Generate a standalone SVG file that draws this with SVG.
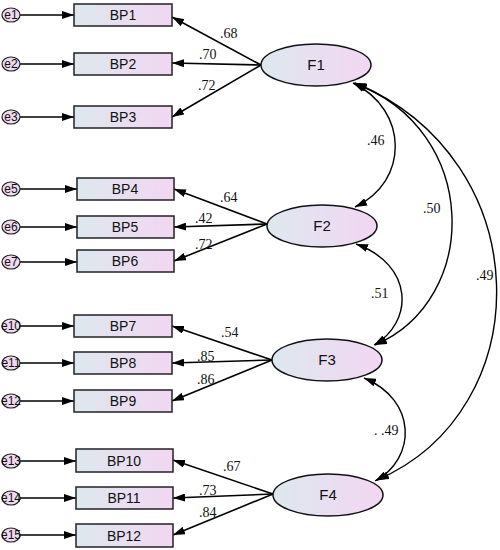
<svg xmlns="http://www.w3.org/2000/svg" width="500" height="550" viewBox="0 0 500 550">
<defs>
<linearGradient id="g" x1="0" y1="0" x2="1" y2="0">
<stop offset="0" stop-color="#dde8ee"/>
<stop offset="1" stop-color="#f3d6f3"/>
</linearGradient>
<marker id="ah" viewBox="0 0 12 8" refX="12" refY="4" markerWidth="12" markerHeight="8" markerUnits="userSpaceOnUse" orient="auto-start-reverse">
<path d="M0,0 L12,4 L0,8 Z" fill="#000"/>
</marker>
<style>
.box{fill:url(#g);stroke:#222;stroke-width:1.5}
.lat{fill:url(#g);stroke:#111;stroke-width:1.5}
.err{fill:#f1d9f1;stroke:#222;stroke-width:1.2}
.bl{font-family:"Liberation Sans",Arial,sans-serif;font-size:14px;fill:#111;text-anchor:middle}
.fl{font-family:"Liberation Sans",Arial,sans-serif;font-size:15px;fill:#111;text-anchor:middle}
.el{font-family:"Liberation Sans",Arial,sans-serif;font-size:12px;fill:#111;text-anchor:middle}
.v{font-family:"Liberation Serif","Times New Roman",serif;font-size:14px;fill:#111}
.ln{stroke:#000;stroke-width:1.6;fill:none;marker-end:url(#ah)}
.cv{stroke:#000;stroke-width:1.4;fill:none;marker-start:url(#ah);marker-end:url(#ah)}
</style>
</defs>

<g id="connectors">
<line class="ln" x1="20" y1="15" x2="74" y2="15"/>
<line class="ln" x1="20" y1="64" x2="74" y2="64"/>
<line class="ln" x1="20" y1="117" x2="74" y2="117"/>
<line class="ln" x1="20" y1="189" x2="77" y2="189"/>
<line class="ln" x1="20" y1="227" x2="77" y2="227"/>
<line class="ln" x1="20" y1="262" x2="77" y2="262"/>
<line class="ln" x1="20" y1="326" x2="74" y2="326"/>
<line class="ln" x1="20" y1="363" x2="74" y2="363"/>
<line class="ln" x1="20" y1="401" x2="74" y2="401"/>
<line class="ln" x1="20" y1="461" x2="76" y2="461"/>
<line class="ln" x1="20" y1="498" x2="76" y2="498"/>
<line class="ln" x1="20" y1="535" x2="76" y2="535"/>
<line class="ln" x1="261" y1="65" x2="172" y2="17"/>
<line class="ln" x1="261" y1="65" x2="172" y2="63"/>
<line class="ln" x1="261" y1="65" x2="172" y2="117"/>
<line class="ln" x1="267" y1="224" x2="174" y2="189"/>
<line class="ln" x1="267" y1="224" x2="174" y2="227"/>
<line class="ln" x1="267" y1="224" x2="174" y2="261"/>
<line class="ln" x1="272" y1="360" x2="172" y2="326"/>
<line class="ln" x1="272" y1="360" x2="172" y2="363"/>
<line class="ln" x1="272" y1="360" x2="172" y2="401"/>
<line class="ln" x1="273" y1="494" x2="173" y2="460"/>
<line class="ln" x1="273" y1="494" x2="173" y2="498"/>
<line class="ln" x1="273" y1="494" x2="173" y2="535"/>
<path class="cv" d="M353,83 C409,110 409,182 355,207"/>
<path class="cv" d="M354,83 C481,130 481,300 375,345"/>
<path class="cv" d="M355,83 C540,160 540,410 377,480"/>
<path class="cv" d="M356,244 C414,265 414,322 374,345"/>
<path class="cv" d="M364,378 C417,400 417,458 375,481"/>
</g>

<g id="labels">
<text class="v" x="220" y="38">.68</text>
<text class="v" x="199" y="59">.70</text>
<text class="v" x="198" y="90">.72</text>
<text class="v" x="220" y="202">.64</text>
<text class="v" x="195" y="223">.42</text>
<text class="v" x="195" y="249">.72</text>
<text class="v" x="221" y="337">.54</text>
<text class="v" x="197" y="361">.85</text>
<text class="v" x="197" y="384">.86</text>
<text class="v" x="223" y="471">.67</text>
<text class="v" x="199" y="495">.73</text>
<text class="v" x="199" y="517">.84</text>
<text class="v" x="367" y="145">.46</text>
<text class="v" x="423" y="213">.50</text>
<text class="v" x="476" y="280">.49</text>
<text class="v" x="371" y="298">.51</text>
<text class="v" x="374" y="435">. .49</text>
</g>

<g id="e1"><ellipse class="err" cx="11" cy="15" rx="9" ry="7"/><text class="el" x="11" y="19">e1</text></g>
<g id="e2"><ellipse class="err" cx="11" cy="64" rx="9" ry="7"/><text class="el" x="11" y="68">e2</text></g>
<g id="e3"><ellipse class="err" cx="11" cy="117" rx="9" ry="7"/><text class="el" x="11" y="121">e3</text></g>
<g id="e5"><ellipse class="err" cx="11" cy="189" rx="9" ry="7"/><text class="el" x="11" y="193">e5</text></g>
<g id="e6"><ellipse class="err" cx="11" cy="227" rx="9" ry="7"/><text class="el" x="11" y="231">e6</text></g>
<g id="e7"><ellipse class="err" cx="11" cy="262" rx="9" ry="7"/><text class="el" x="11" y="266">e7</text></g>
<g id="e10"><ellipse class="err" cx="11" cy="326" rx="9" ry="7"/><text class="el" x="11" y="330">e10</text></g>
<g id="e11"><ellipse class="err" cx="11" cy="363" rx="9" ry="7"/><text class="el" x="11" y="367">e11</text></g>
<g id="e12"><ellipse class="err" cx="11" cy="401" rx="9" ry="7"/><text class="el" x="11" y="405">e12</text></g>
<g id="e13"><ellipse class="err" cx="11" cy="461" rx="9" ry="7"/><text class="el" x="11" y="465">e13</text></g>
<g id="e14"><ellipse class="err" cx="11" cy="498" rx="9" ry="7"/><text class="el" x="11" y="502">e14</text></g>
<g id="e15"><ellipse class="err" cx="11" cy="535" rx="9" ry="7"/><text class="el" x="11" y="539">e15</text></g>

<g id="BP1"><rect class="box" x="74" y="4" width="98" height="22"/><text class="bl" x="123" y="20">BP1</text></g>
<g id="BP2"><rect class="box" x="74" y="53" width="98" height="22"/><text class="bl" x="123" y="69">BP2</text></g>
<g id="BP3"><rect class="box" x="74" y="106" width="98" height="22"/><text class="bl" x="123" y="122">BP3</text></g>
<g id="BP4"><rect class="box" x="77" y="178" width="97" height="22"/><text class="bl" x="125" y="194">BP4</text></g>
<g id="BP5"><rect class="box" x="77" y="216" width="97" height="22"/><text class="bl" x="125" y="232">BP5</text></g>
<g id="BP6"><rect class="box" x="77" y="250" width="97" height="22"/><text class="bl" x="125" y="266">BP6</text></g>
<g id="BP7"><rect class="box" x="74" y="315" width="98" height="22"/><text class="bl" x="123" y="331">BP7</text></g>
<g id="BP8"><rect class="box" x="74" y="352" width="98" height="22"/><text class="bl" x="123" y="368">BP8</text></g>
<g id="BP9"><rect class="box" x="74" y="390" width="98" height="22"/><text class="bl" x="123" y="406">BP9</text></g>
<g id="BP10"><rect class="box" x="76" y="449" width="97" height="23"/><text class="bl" x="124" y="466">BP10</text></g>
<g id="BP11"><rect class="box" x="76" y="487" width="97" height="22"/><text class="bl" x="124" y="503">BP11</text></g>
<g id="BP12"><rect class="box" x="76" y="524" width="97" height="23"/><text class="bl" x="124" y="541">BP12</text></g>

<g id="F1"><ellipse class="lat" cx="316" cy="65" rx="55" ry="21"/><text class="fl" x="316" y="70">F1</text></g>
<g id="F2"><ellipse class="lat" cx="322" cy="226" rx="55" ry="21"/><text class="fl" x="322" y="231">F2</text></g>
<g id="F3"><ellipse class="lat" cx="327" cy="360" rx="55" ry="21"/><text class="fl" x="327" y="365">F3</text></g>
<g id="F4"><ellipse class="lat" cx="328" cy="495" rx="55" ry="21"/><text class="fl" x="328" y="500">F4</text></g>
</svg>
